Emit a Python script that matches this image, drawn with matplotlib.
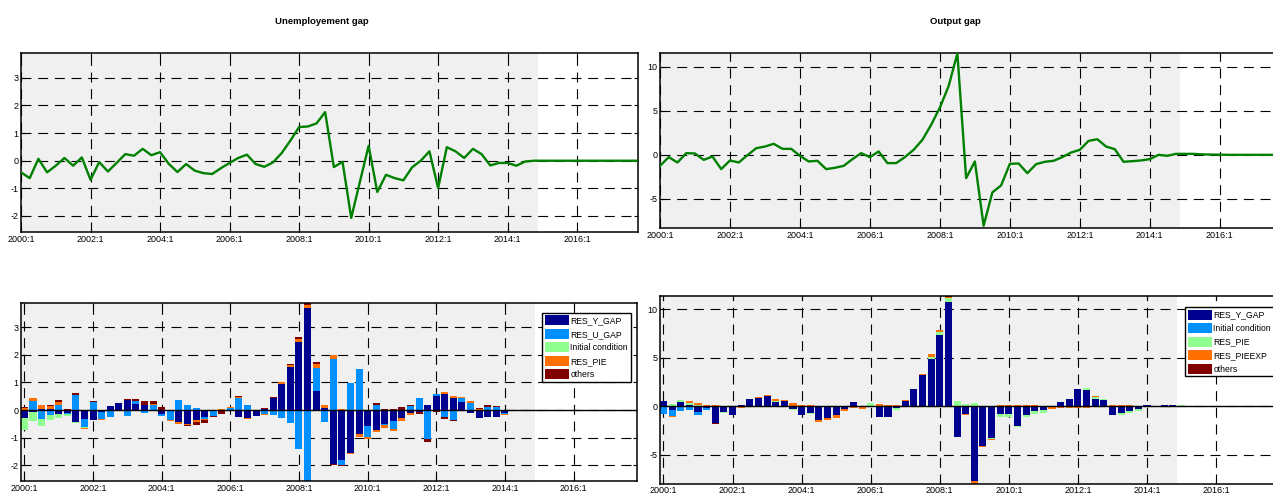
import numpy as np
import matplotlib
matplotlib.use("Agg")
import matplotlib.pyplot as plt
from matplotlib import font_manager
from matplotlib.patches import Patch

names = {f.name for f in font_manager.fontManager.ttflist}
fam = "Liberation Sans Narrow" if "Liberation Sans Narrow" in names else "Liberation Sans"
plt.rcParams["font.family"] = [fam, "DejaVu Sans"]
plt.rcParams["axes.unicode_minus"] = False

# quarters 2000:1 .. 2017:4
periods = np.arange(1, 73)
tick_pos = [1, 9, 17, 25, 33, 41, 49, 57, 65]
tick_lab = ["2000:1", "2002:1", "2004:1", "2006:1", "2008:1", "2010:1", "2012:1", "2014:1", "2016:1"]
last_obs = 60  # 2014:4

u_gap = [-0.42, -0.63, 0.07, -0.42, -0.18, 0.10, -0.18, 0.12, -0.69, -0.05,
         -0.39, -0.08, 0.24, 0.18, 0.43, 0.20, 0.31, -0.11, -0.41, -0.12,
         -0.36, -0.45, -0.48, -0.27, -0.08, 0.10, 0.22, -0.12, -0.22, -0.06,
         0.28, 0.73, 1.22, 1.24, 1.35, 1.76, -0.23, -0.04, -2.07, -0.76,
         0.54, -1.13, -0.51, -0.63, -0.71, -0.24, 0.00, 0.34, -0.99, 0.49,
         0.34, 0.10, 0.43, 0.24, -0.17, -0.08, -0.08, -0.18, -0.03, 0.00,
         0.00, 0.00, 0.00, 0.00, 0.00, 0.00, 0.00, 0.00, 0.00, 0.00, 0.00, 0.00]

y_gap = [-1.25, -0.26, -0.87, 0.19, 0.15, -0.57, -0.19, -1.62, -0.64, -0.87,
         -0.04, 0.75, 0.94, 1.25, 0.68, 0.68, -0.11, -0.75, -0.68, -1.62,
         -1.47, -1.25, -0.49, 0.19, -0.26, 0.38, -0.94, -0.94, -0.26, 0.57,
         1.70, 3.40, 5.36, 7.80, 11.50, -2.64, -0.75, -8.04, -4.26, -3.47,
         -1.02, -0.98, -2.08, -1.06, -0.79, -0.68, -0.26, 0.26, 0.57, 1.58,
         1.77, 0.94, 0.64, -0.79, -0.72, -0.64, -0.49, 0.00, -0.11, 0.11,
         0.11, 0.11, 0.05, 0.03, 0.02, 0.00, 0.00, 0.00, 0.00, 0.00, 0.00, 0.00]

# shock decomposition, unemployment gap
u_res_y = [-0.30, -0.08, 0.05, 0.05, -0.15, -0.12, -0.42, -0.32, -0.35, -0.08,
           0.15, 0.27, 0.35, 0.22, 0.20, -0.02, -0.15, 0.00, -0.45, -0.50,
           -0.38, -0.25, -0.05, -0.03, 0.00, -0.27, -0.28, -0.20, 0.05, 0.45,
           0.95, 1.55, 2.48, 3.72, 0.69, 0.06, -1.98, -1.80, -1.55, -0.87,
           -0.58, -0.72, -0.50, -0.40, -0.30, -0.12, -0.08, 0.18, 0.50, 0.60,
           0.45, 0.30, -0.10, -0.28, -0.27, -0.25, -0.10, -0.02, 0.00, 0.00,
           0.00, 0.00, 0.00, 0.00, 0.00, 0.00, 0.00, 0.00, 0.00, 0.00, 0.00, 0.00]
u_res_u = [0.00, 0.33, -0.34, -0.17, 0.20, -0.02, 0.55, -0.30, 0.30, -0.25,
           -0.25, -0.03, -0.22, 0.10, -0.10, 0.20, -0.05, -0.38, 0.38, 0.20,
           0.08, -0.08, -0.17, 0.00, 0.08, 0.42, 0.17, 0.00, -0.15, -0.17,
           -0.28, -0.48, -1.42, -2.62, 0.82, -0.42, 1.85, -0.20, 0.99, 1.48,
           -0.41, 0.20, -0.05, -0.29, 0.00, 0.15, 0.45, -1.05, 0.08, -0.27,
           -0.35, 0.12, 0.25, 0.00, 0.12, 0.10, -0.05, 0.00, 0.00, 0.00,
           0.00, 0.00, 0.00, 0.00, 0.00, 0.00, 0.00, 0.00, 0.00, 0.00, 0.00, 0.00]
u_init = [-0.43, -0.32, -0.24, -0.19, -0.15, -0.08, -0.05, -0.05, 0.00, 0.00,
          0.00, 0.00, 0.00, 0.00, 0.00, 0.00, 0.00, 0.00, 0.00, 0.00,
          0.00, 0.00, 0.00, 0.00, 0.00, 0.00, 0.00, 0.00, 0.00, 0.00,
          0.00, 0.00, 0.00, 0.00, 0.00, 0.00, 0.00, 0.00, 0.00, 0.00,
          0.00, 0.00, 0.00, 0.00, 0.00, 0.00, 0.00, 0.00, 0.00, 0.00,
          0.00, 0.00, 0.00, 0.00, 0.00, 0.00, 0.00, 0.00, 0.00, 0.00,
          0.00, 0.00, 0.00, 0.00, 0.00, 0.00, 0.00, 0.00, 0.00, 0.00, 0.00, 0.00]
u_res_pie = [0.08, 0.12, 0.12, 0.10, 0.10, 0.00, -0.02, -0.03, 0.00, -0.05,
             0.00, 0.00, 0.00, 0.02, 0.00, 0.02, -0.02, -0.03, -0.05, -0.03,
             -0.06, -0.03, 0.00, 0.05, 0.03, 0.05, -0.04, -0.02, -0.02, -0.02,
             0.05, 0.07, 0.10, 0.10, 0.16, 0.14, 0.15, 0.02, -0.04, -0.12,
             -0.08, -0.09, -0.10, -0.08, -0.10, -0.07, 0.00, 0.00, 0.00, 0.06,
             0.07, 0.06, 0.08, 0.03, 0.00, 0.00, -0.03, 0.00, 0.01, 0.01,
             0.01, 0.00, 0.00, 0.00, 0.00, 0.00, 0.00, 0.00, 0.00, 0.00, 0.00, 0.00]
u_others = [0.02, 0.00, 0.00, 0.03, 0.07, 0.05, 0.07, 0.00, 0.03, 0.00,
            0.00, 0.00, 0.05, 0.07, 0.12, 0.10, 0.10, 0.00, 0.00, -0.04,
            -0.09, -0.12, -0.05, -0.10, -0.01, 0.03, 0.03, 0.00, 0.04, 0.02,
            0.03, 0.06, 0.08, 0.06, 0.07, -0.03, -0.03, -0.05, -0.02, 0.00,
            0.00, 0.04, 0.02, 0.05, 0.10, 0.03, -0.05, -0.10, -0.08, -0.05,
            -0.06, -0.03, 0.00, 0.05, 0.08, 0.05, 0.00, -0.02, -0.03, -0.03,
            -0.03, -0.03, -0.03, -0.03, -0.03, -0.02, -0.02, 0.00, 0.00, 0.00, 0.00, 0.00]

# shock decomposition, output gap
y_res_y = [0.50, -0.35, 0.40, 0.15, -0.60, -0.20, -1.75, -0.60, -0.85, 0.18,
           0.80, 0.85, 1.10, 0.40, 0.50, -0.30, -0.85, -0.65, -1.45, -1.25,
           -0.95, -0.30, 0.45, -0.03, 0.05, -1.15, -1.10, -0.20, 0.55, 1.75,
           3.25, 4.86, 7.34, 10.76, -3.15, -0.78, -7.72, -4.15, -3.28, -0.80,
           -0.80, -2.00, -0.85, -0.50, -0.40, -0.10, 0.45, 0.75, 1.75, 1.65,
           0.80, 0.60, -0.90, -0.70, -0.50, -0.30, 0.12, -0.10, 0.15, 0.10,
           0.00, 0.00, 0.00, 0.00, 0.00, 0.00, 0.00, 0.00, 0.00, 0.00, 0.00, 0.00]
y_init = [-0.80, -0.70, -0.50, -0.35, -0.35, -0.15, 0.00, 0.00, 0.00, 0.00,
          0.00, 0.00, 0.00, 0.00, 0.00, 0.00, 0.00, 0.00, 0.00, 0.00,
          0.00, 0.00, 0.00, 0.00, 0.00, 0.00, 0.00, 0.00, 0.00, 0.00,
          0.00, 0.00, 0.00, 0.00, 0.00, 0.00, 0.00, 0.00, 0.00, 0.00,
          0.00, 0.00, 0.00, 0.00, 0.00, 0.00, 0.00, 0.00, 0.00, 0.00,
          0.00, 0.00, 0.00, 0.00, 0.00, 0.00, 0.00, 0.00, 0.00, 0.00,
          0.00, 0.00, 0.00, 0.00, 0.00, 0.00, 0.00, 0.00, 0.00, 0.00, 0.00, 0.00]
y_res_pie = [0.05, 0.20, 0.25, 0.20, 0.15, 0.00, 0.00, -0.10, -0.03, 0.00,
             0.00, 0.00, 0.00, 0.15, 0.00, -0.10, 0.00, -0.15, 0.00, 0.00,
             0.00, 0.00, 0.00, 0.05, 0.28, 0.05, 0.02, -0.15, 0.00, -0.10,
             0.00, 0.24, 0.31, 0.38, 0.50, 0.20, 0.35, 0.00, -0.05, -0.30,
             -0.30, -0.15, -0.25, -0.32, -0.25, 0.00, 0.00, 0.03, 0.05, 0.20,
             0.20, 0.15, 0.00, -0.15, -0.20, -0.15, -0.10, 0.00, -0.04, 0.03,
             0.08, 0.05, 0.03, 0.03, 0.02, 0.02, 0.02, 0.02, 0.02, 0.02, 0.02, 0.02]
y_res_pieexp = [0.00, -0.05, 0.00, 0.20, 0.15, 0.15, 0.13, 0.05, 0.03, -0.15,
                -0.03, 0.07, 0.10, 0.15, 0.15, 0.30, 0.15, 0.12, -0.17, -0.15,
                -0.28, -0.18, -0.22, -0.28, 0.05, 0.20, 0.15, 0.12, 0.10, 0.05,
                0.10, 0.28, 0.20, 0.17, -0.02, -0.15, -0.25, -0.07, -0.15, 0.15,
                0.12, 0.12, 0.10, 0.08, 0.05, -0.15, -0.15, -0.15, -0.15, -0.15,
                0.05, -0.10, 0.15, 0.15, 0.12, 0.00, 0.00, 0.00, 0.00, 0.00,
                0.00, 0.00, 0.00, 0.00, 0.00, 0.00, 0.00, 0.00, 0.00, 0.00, 0.00, 0.00]
y_others = [0.00, 0.00, 0.00, 0.00, 0.00, 0.00, -0.03, 0.00, 0.00, 0.00,
            0.00, 0.00, 0.00, 0.00, 0.03, 0.00, -0.05, 0.00, 0.00, -0.05,
            0.00, 0.00, 0.00, 0.00, 0.00, 0.00, 0.00, 0.00, -0.08, 0.00,
            0.03, 0.00, 0.03, 0.07, 0.03, 0.00, 0.00, 0.00, 0.00, 0.00,
            0.00, 0.00, 0.00, 0.00, 0.00, 0.00, 0.00, 0.00, 0.00, 0.00,
            -0.10, 0.00, -0.05, 0.00, -0.03, 0.00, 0.00, 0.00, 0.00, 0.00,
            0.00, -0.02, -0.02, -0.02, -0.02, -0.02, -0.02, -0.02, -0.02, -0.02, -0.02, -0.02]

u_labels = ["RES_Y_GAP", "RES_U_GAP", "Initial condition", "RES_PIE", "others"]
y_labels = ["RES_Y_GAP", "Initial condition", "RES_PIE", "RES_PIEEXP", "others"]
colors = ["#00008f", "#0090ff", "#8fff8f", "#ff7000", "#800000"]

W, H = 1273, 497
fig = plt.figure(figsize=(W / 100, H / 100), dpi=100)


def frame(rect, xlim, ylim, yticks):
    ax = fig.add_axes(rect)
    ax.set_xlim(*xlim)
    ax.set_ylim(*ylim)
    ax.axvspan(xlim[0], last_obs + 0.5, color="#f0f0f0", lw=0, zorder=0)
    ax.set_xticks(tick_pos)
    ax.set_xticklabels(tick_lab)
    ax.set_yticks(yticks)
    ax.set_yticklabels([str(t) for t in yticks])
    ax.grid(True, color="black", ls=(0, (9, 6)), lw=0.8)
    ax.set_axisbelow(True)
    ax.tick_params(direction="in", top=True, right=True, length=3, width=0.8,
                   labelsize=6.5, pad=2)
    for s in ax.spines.values():
        s.set_linewidth(1.1)
    return ax


def px(l, r, t, b):
    return [l / W, 1 - b / H, (r - l) / W, (b - t) / H]


def stacked(ax, comps):
    data = np.array(comps)
    pos = np.clip(data, 0, None)
    neg = np.clip(data, None, 0)
    pb = np.zeros(len(periods))
    nb = np.zeros(len(periods))
    for k in range(len(comps)):
        ax.bar(periods, pos[k], 0.82, bottom=pb, color=colors[k], lw=0, zorder=2)
        ax.bar(periods, neg[k], 0.82, bottom=nb, color=colors[k], lw=0, zorder=2)
        pb += pos[k]
        nb += neg[k]
    ax.axhline(0, color="black", lw=1.0, zorder=3)


def legend(ax, labels, x, y):
    handles = [Patch(facecolor=c, edgecolor="none") for c in colors]
    lg = ax.legend(handles, labels, loc="upper left", bbox_to_anchor=(x / W, 1 - y / H),
                   bbox_transform=fig.transFigure, fontsize=6.25, handlelength=2.76,
                   handleheight=1.38, labelspacing=0.41, handletextpad=0.18,
                   borderpad=0.32, borderaxespad=0, fancybox=False, framealpha=1)
    lg.get_frame().set_edgecolor("black")
    lg.get_frame().set_linewidth(1.0)


ax1 = frame(px(21, 638, 53, 232), (1, 72), (-2.58, 3.9), [-2, -1, 0, 1, 2, 3])
ax1.plot(periods, u_gap, color="#008000", lw=1.7, zorder=3)

ax2 = frame(px(660, 1281, 53, 228), (1, 72), (-8.3, 11.55), [-5, 0, 5, 10])
ax2.plot(periods, y_gap, color="#008000", lw=1.7, zorder=3)

ax3 = frame(px(21, 637, 302.7, 481), (0.6, 72.4), (-2.58, 3.9), [-2, -1, 0, 1, 2, 3])
stacked(ax3, [u_res_y, u_res_u, u_init, u_res_pie, u_others])
legend(ax3, u_labels, 542, 312.7)

ax4 = frame(px(660, 1280, 296, 483.5), (0.6, 72.4), (-7.97, 11.38), [-5, 0, 5, 10])
stacked(ax4, [y_res_y, y_init, y_res_pie, y_res_pieexp, y_others])
legend(ax4, y_labels, 1185, 307)

fig.text(322 / W, 1 - 22 / H, "Unemployement gap", ha="center", va="center",
         fontsize=6.8, fontweight="bold")
fig.text(955 / W, 1 - 22 / H, "Output gap", ha="center", va="center",
         fontsize=6.8, fontweight="bold")

fig.savefig("out.png", dpi=100)
